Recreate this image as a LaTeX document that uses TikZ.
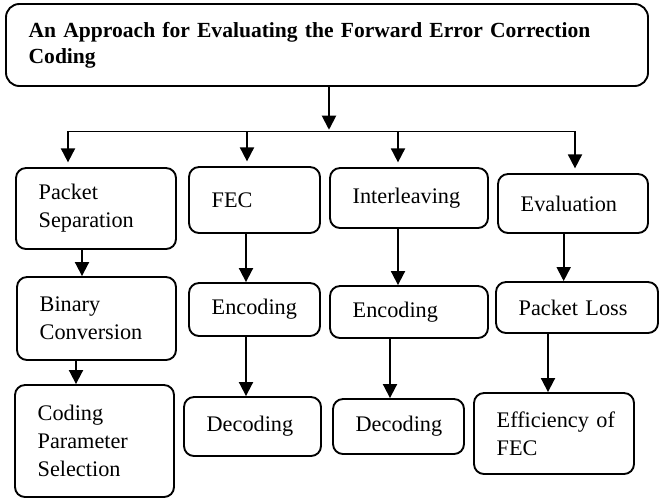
\documentclass[tikz,border=0pt]{standalone}
\usepackage{fontspec}
\setmainfont{Liberation Serif}
\usetikzlibrary{arrows.meta}

\begin{document}
\begin{tikzpicture}[
    font=\fontsize{19}{24}\selectfont,
    kotak/.style={draw, line width=1.6pt, rounded corners=0.3cm, align=left,
                  inner xsep=0.68cm, inner ysep=2pt},
    panah/.style={-{Triangle[length=0.42cm, width=0.42cm]}, line width=1.6pt},
    garis/.style={line width=1.6pt, line cap=rect}
  ]
    \useasboundingbox (0,0) rectangle (19.8,-14.97);
    \node[kotak, text width=17.9cm, minimum height=2.46cm, rounded corners=0.4cm,
          font=\bfseries\fontsize{18.4}{22}\selectfont] (judul) at (9.81,-1.35)
      {An Approach for Evaluating the Forward Error Correction\\Coding};
    \coordinate (cabang) at (9.87,-3.945);

    % baris pertama
    \node[kotak, text width=3.44cm, minimum height=2.43cm] (pemisahan) at (2.88,-6.255)
      {Packet\\Separation};
    \node[kotak, text width=2.57cm, minimum height=1.98cm] (fec) at (7.635,-6.0)
      {FEC};
    \node[kotak, text width=3.38cm, minimum height=1.8cm] (interleaving) at (12.27,-5.94)
      {Interleaving};
    \node[kotak, text width=3.14cm, minimum height=1.77cm] (evaluasi) at (17.19,-6.105)
      {Evaluation};

    % baris kedua
    \node[kotak, text width=3.41cm, minimum height=2.49cm] (biner) at (2.895,-9.555)
      {Binary\\Conversion};
    \node[kotak, text width=2.57cm, minimum height=1.59cm] (enkodefec) at (7.635,-9.285)
      {Encoding};
    \node[kotak, text width=3.38cm, minimum height=1.56cm] (enkodeint) at (12.27,-9.36)
      {Encoding};
    \node[kotak, text width=3.5cm, minimum height=1.53cm] (loss) at (17.31,-9.225)
      {Packet~Loss};

    % baris ketiga
    \node[kotak, text width=3.41cm, minimum height=3.36cm] (parameter) at (2.835,-13.23)
      {Coding\\Parameter\\Selection};
    \node[kotak, text width=2.75cm, minimum height=1.77cm] (dekodefec) at (7.575,-12.795)
      {Decoding};
    \node[kotak, text width=2.57cm, minimum height=1.65cm] (dekodeint) at (11.955,-12.795)
      {Decoding};
    \node[kotak, text width=3.44cm, minimum height=2.43cm] (efisiensi) at (16.62,-13.005)
      {Efficiency~of\\FEC};

    % cabang dari judul
    \draw[panah, shorten >=1.5pt] ([xshift=0.06cm]judul.south) -- (cabang);
    \draw[garis] ([xshift=-0.84cm]pemisahan.north |- cabang)
      -- ([xshift=0.06cm]evaluasi.north |- cabang);
    \draw[panah, shorten >=4pt] ([xshift=-0.84cm]pemisahan.north |- cabang)
      -- ([xshift=-0.84cm]pemisahan.north);
    \draw[panah, shorten >=4pt] ([xshift=-0.225cm]fec.north |- cabang)
      -- ([xshift=-0.225cm]fec.north);
    \draw[panah, shorten >=4pt] ([xshift=-0.33cm]interleaving.north |- cabang)
      -- ([xshift=-0.33cm]interleaving.north);
    \draw[panah, shorten >=4pt] ([xshift=0.06cm]evaluasi.north |- cabang)
      -- ([xshift=0.06cm]evaluasi.north);

    % panah di tiap kolom
    \draw[panah] ([xshift=-0.42cm]pemisahan.south) -- ([xshift=-0.42cm]pemisahan.south |- biner.north);
    \draw[panah] ([xshift=-0.615cm]biner.south) -- ([xshift=-0.615cm]biner.south |- parameter.north);
    \draw[panah] ([xshift=-0.255cm]fec.south) -- ([xshift=-0.255cm]fec.south |- enkodefec.north);
    \draw[panah] ([xshift=-0.255cm]enkodefec.south) -- ([xshift=-0.255cm]enkodefec.south |- dekodefec.north);
    \draw[panah] ([xshift=-0.33cm]interleaving.south) -- ([xshift=-0.33cm]interleaving.south |- enkodeint.north);
    \draw[panah] ([xshift=-0.57cm]enkodeint.south) -- ([xshift=-0.57cm]enkodeint.south |- dekodeint.north);
    \draw[panah] ([xshift=-0.28cm]evaluasi.south) -- ([xshift=-0.28cm]evaluasi.south |- loss.north);
    \draw[panah] ([xshift=-0.87cm]loss.south) -- ([xshift=-0.87cm]loss.south |- efisiensi.north);
\end{tikzpicture}
\end{document}
